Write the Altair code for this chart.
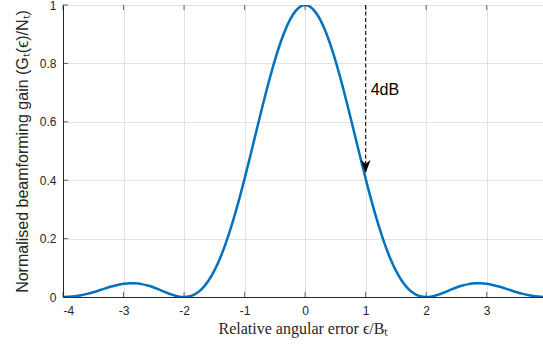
import altair as alt
import pandas as pd

# Curve
x_vals = [-4.0, -3.9, -3.8, -3.7, -3.6, -3.5, -3.4, -3.3, -3.2, -3.1, -3.0,
          -2.9, -2.8, -2.7, -2.6, -2.5, -2.4, -2.3, -2.2, -2.1, -2.0,
          -1.9, -1.8, -1.7, -1.6, -1.5, -1.4, -1.3, -1.2, -1.1, -1.0,
          -0.9, -0.8, -0.7, -0.6, -0.5, -0.4, -0.3, -0.2, -0.1, 0.0,
          0.1, 0.2, 0.3, 0.4, 0.5, 0.6, 0.7, 0.8, 0.9, 1.0,
          1.1, 1.2, 1.3, 1.4, 1.5, 1.6, 1.7, 1.8, 1.9, 2.0,
          2.1, 2.2, 2.3, 2.4, 2.5, 2.6, 2.7, 2.8, 2.9, 3.0,
          3.1, 3.2, 3.3, 3.4, 3.5, 3.6, 3.7, 3.8, 3.9, 4.0]
gain_vals = [0.0, 0.0007, 0.0027, 0.0061, 0.0108, 0.0165, 0.0229, 0.0295, 0.0358, 0.0411, 0.0450,
             0.0470, 0.0468, 0.0441, 0.0392, 0.0324, 0.0243, 0.0158, 0.0080, 0.0022, 0.0,
             0.0027, 0.0119, 0.0289, 0.0547, 0.0901, 0.1353, 0.1904, 0.2546, 0.3267, 0.4053,
             0.4881, 0.5728, 0.6566, 0.7368, 0.8106, 0.8751, 0.9281, 0.9675, 0.9918, 1.0,
             0.9918, 0.9675, 0.9281, 0.8751, 0.8106, 0.7368, 0.6566, 0.5728, 0.4881, 0.4053,
             0.3267, 0.2546, 0.1904, 0.1353, 0.0901, 0.0547, 0.0289, 0.0119, 0.0027, 0.0,
             0.0022, 0.0080, 0.0158, 0.0243, 0.0324, 0.0392, 0.0441, 0.0468, 0.0470, 0.0450,
             0.0411, 0.0358, 0.0295, 0.0229, 0.0165, 0.0108, 0.0061, 0.0027, 0.0007, 0.0]

x_ticks = [-4, -3, -2, -1, 0, 1, 2, 3]
y_ticks = [0, 0.2, 0.4, 0.6, 0.8, 1]

arrow_x = [1.0]
arrow_top = [1.0]
arrow_tip = [0.425]
arrow_label = ["4dB"]
label_y = [0.71]

curve = pd.DataFrame({"x": x_vals, "g": gain_vals})
arrow = pd.DataFrame({"x": arrow_x, "y1": arrow_top, "y2": arrow_tip,
                      "label": arrow_label, "ly": label_y})
xt = pd.DataFrame({"x": x_ticks})
yt = pd.DataFrame({"y": y_ticks})

W, H = 480, 292
xs = alt.Scale(domain=[-4, 3.93], nice=False, zero=False)
ys = alt.Scale(domain=[0, 1], nice=False)

AX = "#262626"
xaxis = alt.Axis(values=x_ticks, grid=True, gridColor="#e3e3e3", ticks=False,
                 domainColor=AX, labelColor=AX, labelFont="Liberation Sans",
                 labelFontSize=12, labelPadding=8,
                 labelExpr="'' + datum.value",
                 title="Relative angular error ϵ/Bₜ", titleFont="Liberation Serif",
                 titleFontSize=16, titleFontWeight="normal", titleColor=AX,
                 titlePadding=4)
yaxis = alt.Axis(values=y_ticks, grid=True, gridColor="#e3e3e3", ticks=False,
                 domainColor=AX, labelColor=AX, labelFont="Liberation Sans",
                 labelFontSize=12, labelPadding=7,
                 labelExpr="'' + datum.value",
                 title="Normalised beamforming gain (Gₜ(ϵ)/Nₜ)",
                 titleFont="Liberation Sans", titleFontSize=16,
                 titleFontWeight="normal", titleColor=AX, titlePadding=9)

line = alt.Chart(curve).mark_line(color="#0072BD", strokeWidth=2.5,
                                  interpolate="monotone", clip=True).encode(
    x=alt.X("x:Q", scale=xs, axis=xaxis),
    y=alt.Y("g:Q", scale=ys, axis=yaxis),
)

xtick = alt.Chart(xt).mark_tick(color=AX, size=5, thickness=1, orient="vertical").encode(
    x=alt.X("x:Q", scale=xs), y=alt.value(H - 2.5))
xtick_top = alt.Chart(xt).mark_tick(color=AX, size=5, thickness=1, orient="vertical").encode(
    x=alt.X("x:Q", scale=xs), y=alt.value(2.5))
ytick = alt.Chart(yt).mark_tick(color=AX, size=5, thickness=1, orient="horizontal").encode(
    y=alt.Y("y:Q", scale=ys), x=alt.value(2.5))

dash = alt.Chart(arrow).mark_rule(color="black", strokeDash=[4, 2.5], strokeWidth=1).encode(
    x=alt.X("x:Q", scale=xs), y=alt.Y("y1:Q", scale=ys), y2="y2:Q")
head = alt.Chart(arrow).mark_point(
    shape="M-0.65,-1.7L0,0L0.65,-1.7L0,-1.2Z", filled=True, color="black",
    opacity=1, size=230, strokeWidth=0).encode(
    x=alt.X("x:Q", scale=xs), y=alt.Y("y2:Q", scale=ys))
label = alt.Chart(arrow).mark_text(align="left", baseline="middle", dx=5,
                                   font="Liberation Sans", fontSize=16,
                                   color="black").encode(
    x=alt.X("x:Q", scale=xs), y=alt.Y("ly:Q", scale=ys), text="label:N")

chart = alt.layer(line, xtick, xtick_top, ytick, dash, head, label).properties(
    width=W, height=H,
    autosize=alt.AutoSizeParams(type="none"),
    padding={"left": 63, "top": 5, "right": 0, "bottom": 47},
).configure_view(stroke=AX, strokeWidth=1).configure(background="white")

chart.save("out.html", embed_options={"renderer": "svg", "actions": False})
